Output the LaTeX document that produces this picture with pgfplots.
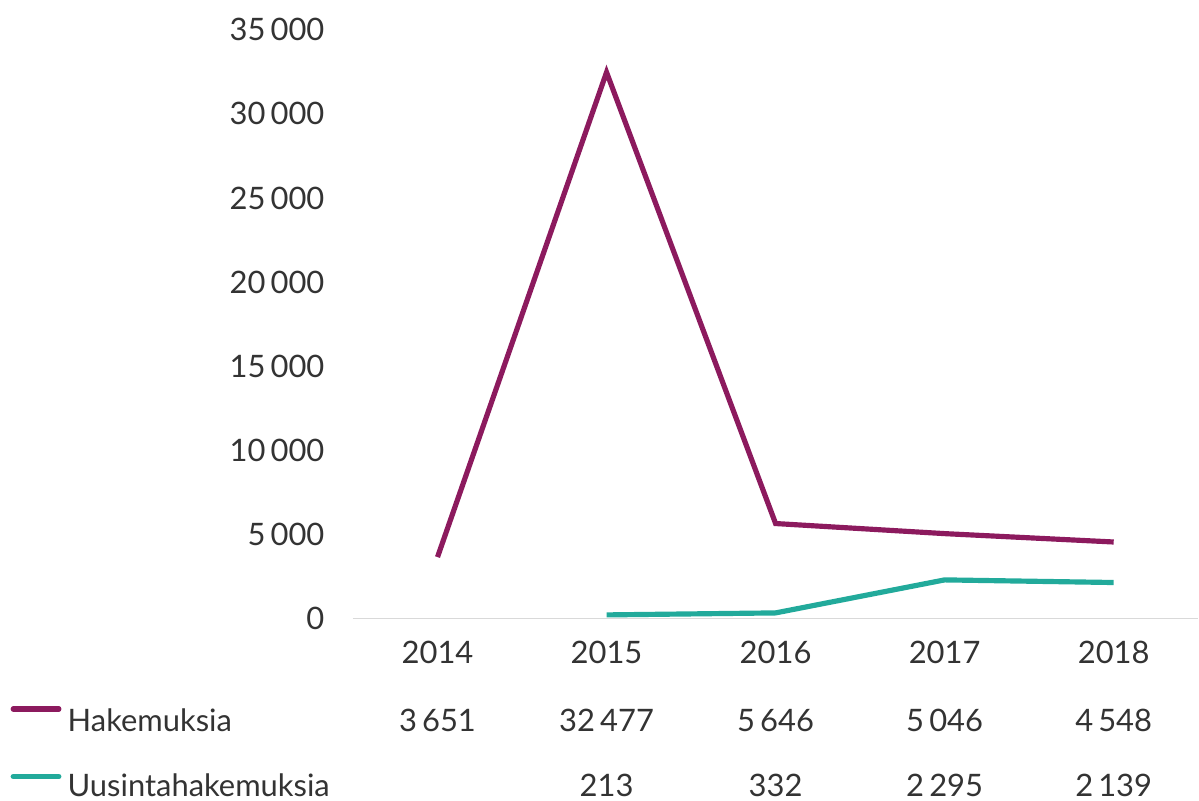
\documentclass[border=0pt]{standalone}
\usepackage{fontspec}
\setmainfont{Lato}
\usepackage{pgfplots}
\pgfplotsset{compat=1.18}
\usetikzlibrary{calc}
\definecolor{hak}{HTML}{8C1A5E}
\definecolor{uus}{HTML}{22AA9B}
\definecolor{txt}{HTML}{333333}
\begin{document}
\fontsize{15.6}{18}\selectfont
\begin{tikzpicture}
\begin{axis}[
  scale only axis,
  width=425bp, height=296bp,
  xmin=-0.5, xmax=4.5,
  ymin=0, ymax=35000,
  xtick={0,1,2,3,4},
  xticklabels={2014,2015,2016,2017,2018},
  ytick={0,5000,...,35000},
  axis line style={draw=none},
  major tick length=0pt,
  clip=false,
  scaled y ticks=false,
  /pgf/number format/assume math mode=true,
  /pgf/number format/1000 sep={\,},
  tick label style={font=\fontsize{15.6}{18}\selectfont, text=txt},
  yticklabel style={xshift=-9bp},
  xticklabel style={yshift=-6bp},
]
\draw[color=black!15, line width=0.8bp] (axis cs:-0.5,0) -- (axis cs:4.5,0);
\addplot[hak, line width=2.6bp] coordinates {(0,3651) (1,32477) (2,5646) (3,5046) (4,4548)};
\addplot[uus, line width=2.6bp] coordinates {(1,213) (2,332) (3,2295) (4,2139)};
\draw[hak, line width=2.6bp, line cap=round] (axis cs:-2.51,-5380) -- (axis cs:-2.24,-5380);
\draw[uus, line width=2.6bp, line cap=round] (axis cs:-2.51,-9400) -- (axis cs:-2.24,-9400);
\node[anchor=base west, text=txt, inner sep=0pt] at (axis cs:-2.19,-6740) {Hakemuksia};
\node[anchor=base west, text=txt, inner sep=0pt] at (axis cs:-2.19,-10560) {Uusintahakemuksia};
\node[anchor=base, text=txt, inner sep=0pt] at (axis cs:0,-6740) {3\,651};
\node[anchor=base, text=txt, inner sep=0pt] at (axis cs:1,-6740) {32\,477};
\node[anchor=base, text=txt, inner sep=0pt] at (axis cs:2,-6740) {5\,646};
\node[anchor=base, text=txt, inner sep=0pt] at (axis cs:3,-6740) {5\,046};
\node[anchor=base, text=txt, inner sep=0pt] at (axis cs:4,-6740) {4\,548};
\node[anchor=base, text=txt, inner sep=0pt] at (axis cs:1,-10560) {213};
\node[anchor=base, text=txt, inner sep=0pt] at (axis cs:2,-10560) {332};
\node[anchor=base, text=txt, inner sep=0pt] at (axis cs:3,-10560) {2\,295};
\node[anchor=base, text=txt, inner sep=0pt] at (axis cs:4,-10560) {2\,139};
\coordinate (A) at (rel axis cs:0,0);
\end{axis}
\useasboundingbox ($(A)+(-177.5bp,-91.5bp)$) rectangle ($(A)+(422bp,311bp)$);
\end{tikzpicture}
\end{document}
